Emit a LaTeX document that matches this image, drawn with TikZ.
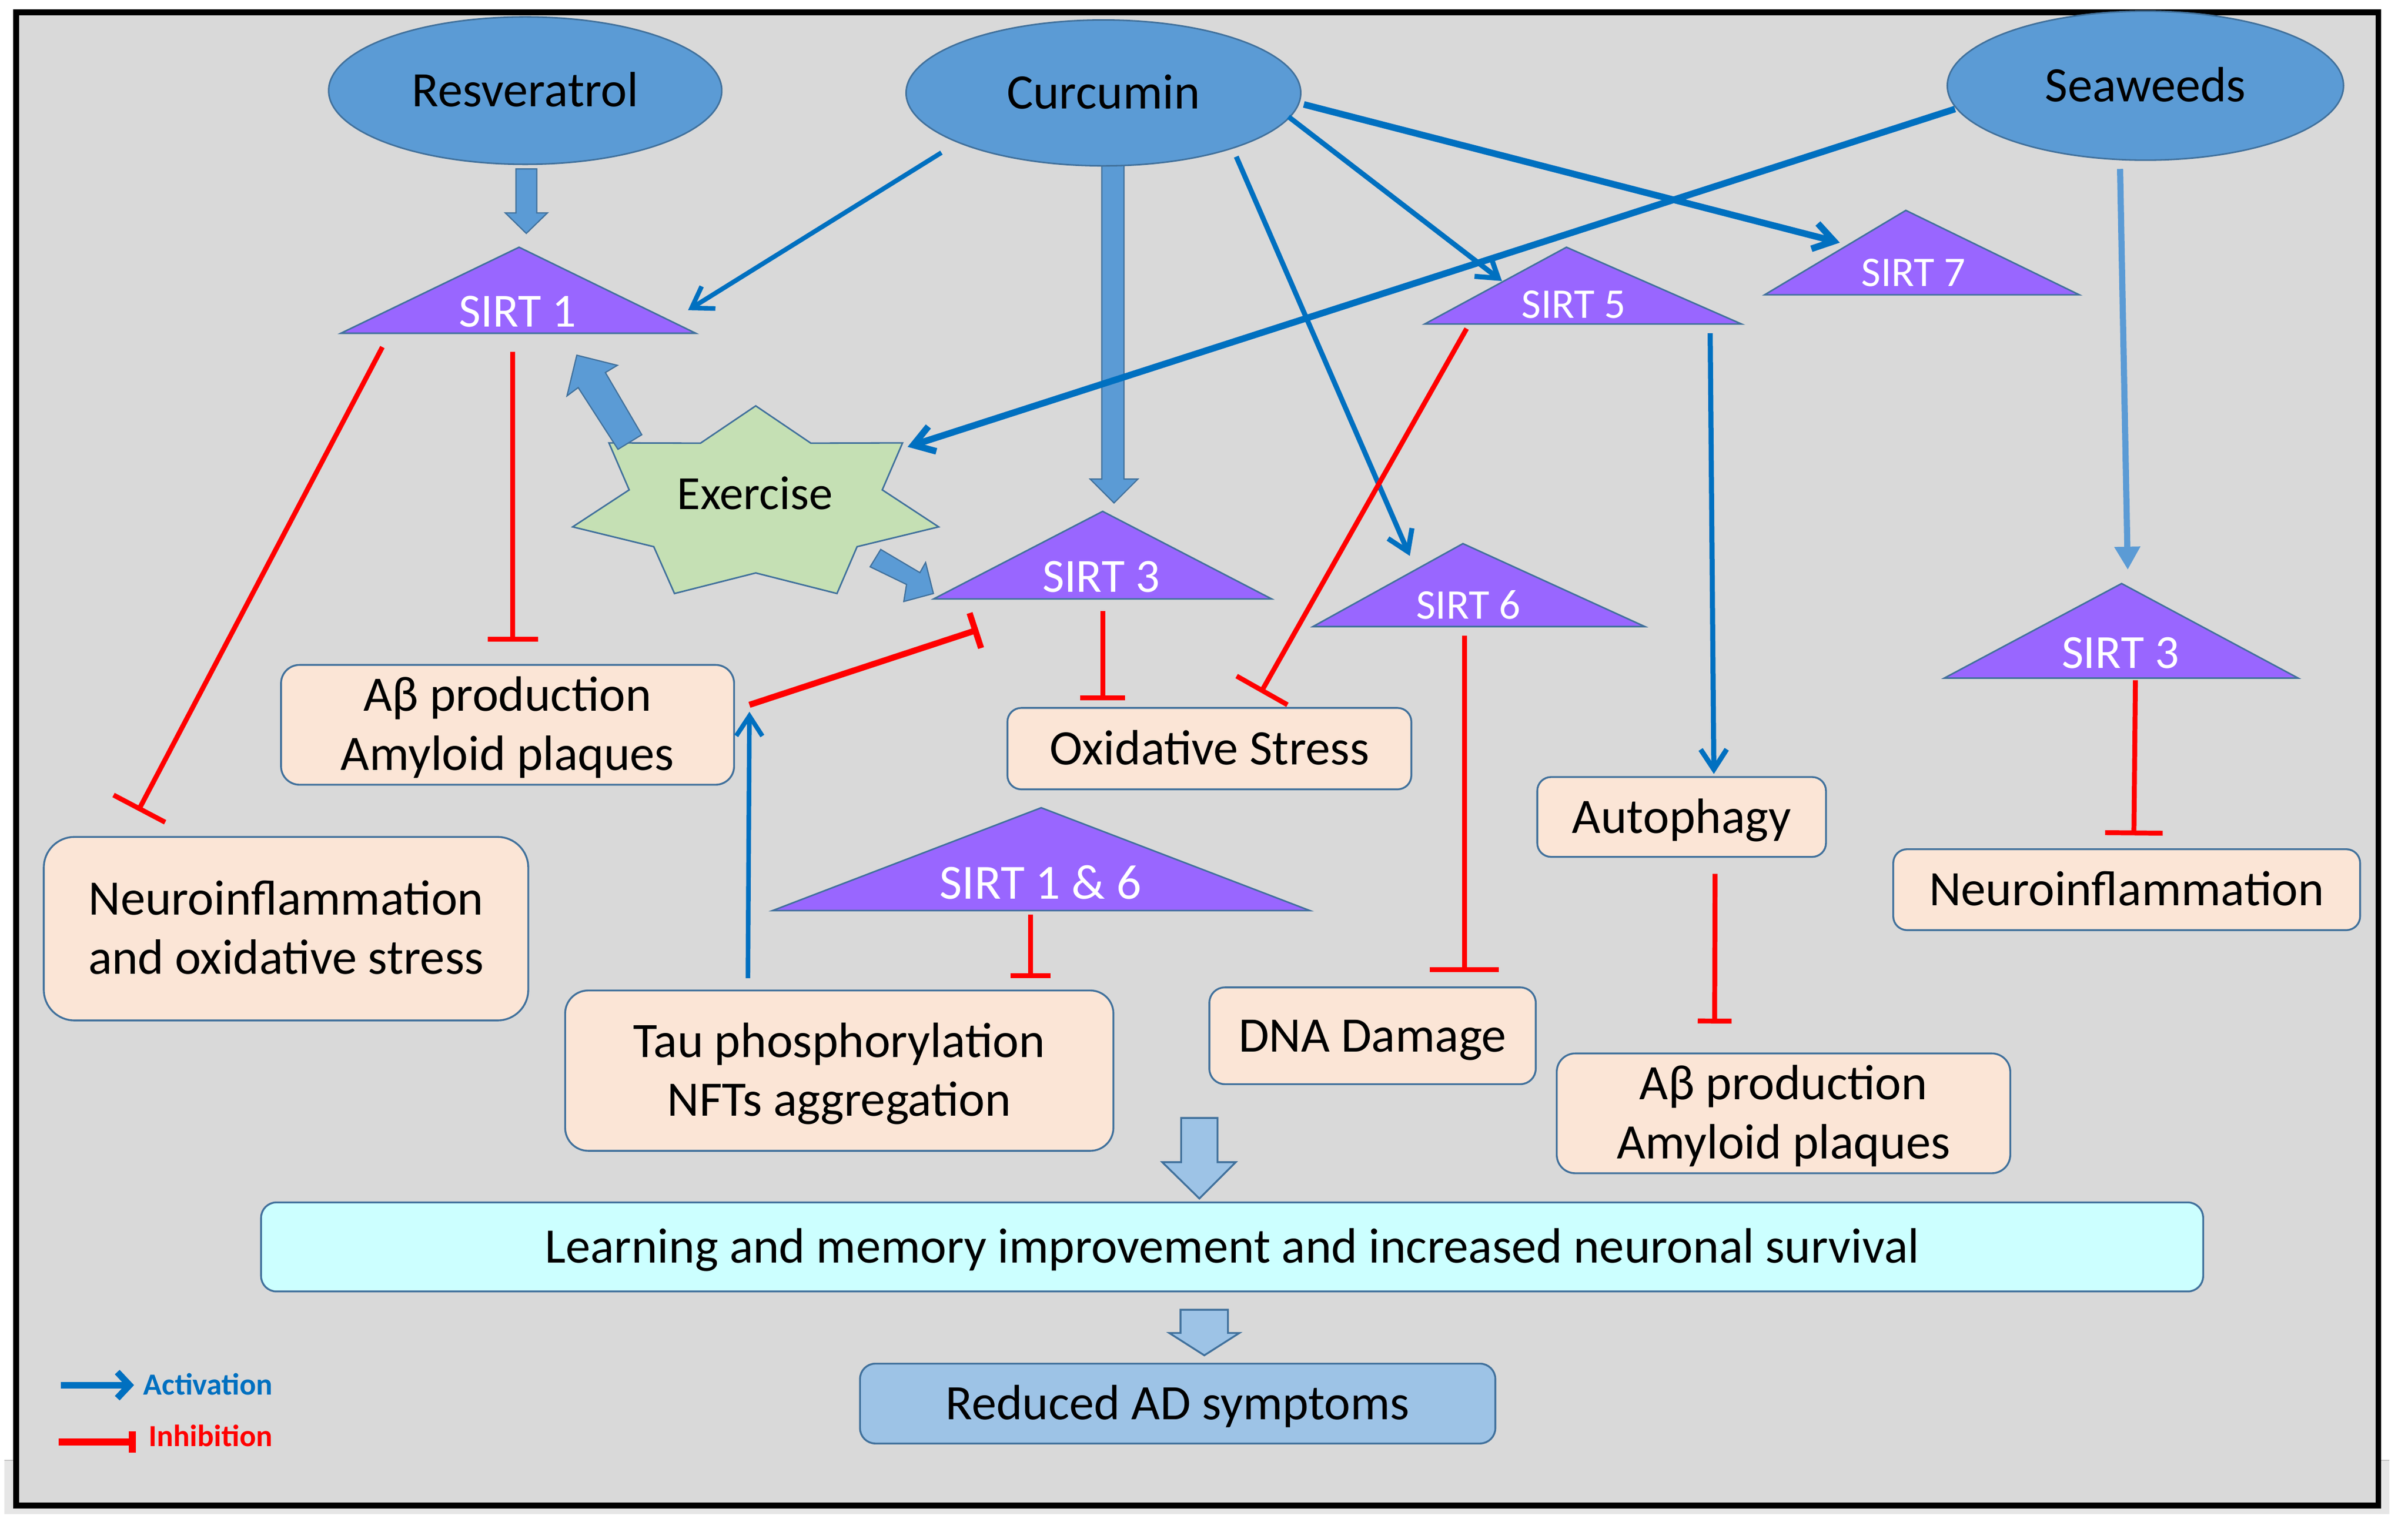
\documentclass[tikz,border=0pt]{standalone}
\usepackage{fontspec}
\setmainfont{Carlito}
\usetikzlibrary{arrows.meta,shapes.geometric}
\definecolor{bgGrey}{HTML}{D9D9D9}
\definecolor{stripGrey}{HTML}{E6E6E6}
\definecolor{stripEdge}{HTML}{C4C4C4}
\definecolor{ellFill}{HTML}{5B9BD5}
\definecolor{edgeBlue}{HTML}{41719C}
\definecolor{sirtFill}{HTML}{9966FF}
\definecolor{starFill}{HTML}{C5E0B4}
\definecolor{boxFill}{HTML}{FBE5D6}
\definecolor{learnFill}{HTML}{CCFFFF}
\definecolor{adFill}{HTML}{9DC3E6}
\definecolor{actBlue}{HTML}{0070C0}
\definecolor{inhRed}{HTML}{FF0000}
\newcommand{\mainsz}{\fontsize{32.3}{38.5}\selectfont}
\newcommand{\sirtbig}{\fontsize{31}{36}\selectfont}
\newcommand{\sirtsml}{\fontsize{27.5}{32}\selectfont}
\newcommand{\legsz}{\fontsize{20}{24}\selectfont\bfseries}
\begin{document}
\begin{tikzpicture}[x=1pt,y=-1pt,
  ell/.style={ellipse, fill=ellFill, draw=edgeBlue, line width=1pt, inner sep=0pt, font=\mainsz, text height=20.8pt, text depth=0pt},
  pbox/.style={rectangle, fill=boxFill, draw=edgeBlue, line width=1.2pt, inner sep=0pt, align=center, font=\mainsz},
  oneline/.style={text height=20.8pt, text depth=0pt},
  twoline/.style={text height=59.3pt, text depth=0pt},
  sirtshape/.style={fill=sirtFill, draw=edgeBlue, line width=1pt, line join=miter},
  sirtlbl/.style={text=white, anchor=base, inner sep=0pt},
  blkarrow/.style={fill=ellFill, draw=edgeBlue, line width=0.8pt},
  downarrow/.style={fill=adFill, draw=edgeBlue, line width=1.2pt},
  act/.style={draw=actBlue, line width=3pt, -{Straight Barb[length=13pt,width=17pt]}},
  inh/.style={draw=inhRed, line width=3.2pt},
]
\useasboundingbox (0,0) rectangle (1568,989);
% page strip and frame
\fill[stripGrey] (3,951) rectangle (1556,986);
\draw[stripEdge, line width=1pt] (3,951) -- (1556,951);
\draw[fill=bgGrey, draw=black, line width=3.8pt] (10.5,8) rectangle (1548.7,980.5);

% block arrows from curcumin and resveratrol
\draw[blkarrow] (336,110) -- (349.5,110) -- (349.5,138.6) -- (356.5,138.6) -- (342.7,152) -- (329,138.6) -- (336,138.6) -- cycle;
\draw[blkarrow] (717.4,106) -- (731.9,106) -- (731.9,312) -- (740.9,312) -- (725.4,327.5) -- (709.9,312) -- (717.4,312) -- cycle;

% sources
\node[ell, minimum width=256pt, minimum height=96pt] (res) at (342,59) {Resveratrol};
\node[ell, minimum width=257pt, minimum height=95pt] (cur) at (718.5,60.5) {Curcumin};
\node[ell, minimum width=258pt, minimum height=97pt] (sea) at (1397,55.8) {Seaweeds};

% sirtuin triangles
\draw[sirtshape] (338,161) -- (453,217) -- (222,217) -- cycle;
\node[sirtlbl, font=\sirtbig] (s1) at (337,212.8) {SIRT 1};
\draw[sirtshape] (718,333) -- (828,390) -- (608,390) -- cycle;
\node[sirtlbl, font=\sirtbig] (s3) at (717,385.5) {SIRT 3};
\draw[sirtshape] (1020,161) -- (1134,211) -- (927.7,211) -- cycle;
\node[sirtlbl, font=\sirtsml] (s5) at (1024.8,207) {SIRT 5};
\draw[sirtshape] (1241,137) -- (1354,192) -- (1149,192) -- cycle;
\node[sirtlbl, font=\sirtsml] (s7) at (1246,186.4) {SIRT 7};
\draw[sirtshape] (952.6,354) -- (1071,408) -- (855,408) -- cycle;
\node[sirtlbl, font=\sirtsml] (s6) at (956.2,403) {SIRT 6};
\draw[sirtshape] (1381.5,380) -- (1496.5,441.6) -- (1266,441.6) -- cycle;
\node[sirtlbl, font=\sirtbig] (s3r) at (1380.7,435) {SIRT 3};
\draw[sirtshape] (678,526) -- (853,593) -- (503,593) -- cycle;
\node[sirtlbl, font=\fontsize{32}{36}\selectfont] (s16) at (677.5,585.4) {SIRT 1 \& 6};

% exercise star
\draw[fill=starFill, draw=edgeBlue, line width=1pt] (492.1,264.3) -- (528.0,288.6) -- (587.7,288.4) -- (574.5,319.0) -- (611.2,343.1) -- (558.1,356.0) -- (545.0,386.5) -- (492.1,373.1) -- (439.2,386.5) -- (425.7,356.0) -- (372.9,343.1) -- (409.7,319.0) -- (396.5,288.4) -- (456.1,288.6) -- cycle;
\node[anchor=base, inner sep=0pt, font=\fontsize{31}{36}\selectfont] (ex) at (491.6,331.8) {Exercise};
% exercise block arrows
\draw[blkarrow] (417.9,283.1) -- (394.2,242.6) -- (402.0,237.9) -- (375.6,231.3) -- (369.2,257.8) -- (376.5,252.4) -- (402.4,292.6) -- cycle;
\draw[blkarrow] (573.5,357.8) -- (599.0,372.9) -- (602.7,366.3) -- (607.8,386.5) -- (588.5,391.7) -- (590.3,380.6) -- (566.6,369.1) -- cycle;

% outcome boxes
\node[pbox, twoline, rounded corners=12pt, minimum width=295pt, minimum height=78pt] (ab1) at (330.5,472) {Aβ production\\Amyloid plaques};
\node[pbox, oneline, rounded corners=9pt, minimum width=263pt, minimum height=53pt] (ox) at (787.5,487.5) {Oxidative Stress};
\node[pbox, twoline, rounded corners=20pt, minimum width=315.5pt, minimum height=119.5pt] (neu1) at (186.25,604.75) {Neuroinflammation\\and oxidative stress};
\node[pbox, twoline, rounded corners=15pt, minimum width=357pt, minimum height=104.4pt] (tau) at (546.5,697.2) {Tau phosphorylation\\NFTs aggregation};
\node[pbox, oneline, rounded corners=10pt, minimum width=212.5pt, minimum height=63pt] (dna) at (893.75,674.5) {DNA Damage};
\node[pbox, oneline, rounded corners=9pt, minimum width=188pt, minimum height=52pt] (auto) at (1095,532) {Autophagy};
\node[pbox, twoline, rounded corners=12pt, minimum width=295.3pt, minimum height=78pt] (ab2) at (1161.35,725) {Aβ production\\Amyloid plaques};
\node[pbox, oneline, rounded corners=9pt, minimum width=304pt, minimum height=52.7pt] (neu2) at (1384.8,579.35) {Neuroinflammation};
\node[pbox, oneline, fill=learnFill, rounded corners=10pt, minimum width=1264.6pt, minimum height=58pt] (learn) at (802.3,812) {Learning and memory improvement and increased neuronal survival};
\node[pbox, oneline, fill=adFill, rounded corners=10pt, minimum width=413.7pt, minimum height=52pt] (adsym) at (766.85,914) {Reduced AD symptoms};

% downward arrows
\draw[downarrow] (769.1,728) -- (792.8,728) -- (792.8,756.8) -- (804.7,756.8) -- (781,780.5) -- (756.8,756.8) -- (769.1,756.8) -- cycle;
\draw[downarrow] (768.7,852.9) -- (799.6,852.9) -- (799.6,868) -- (807.1,868) -- (784.2,882.6) -- (761.3,868) -- (768.7,868) -- cycle;

% connector end points
\coordinate (b1s) at (613,99.4);   \coordinate (b1e) at (448,202);
\coordinate (b2s) at (805,102);    \coordinate (b2e) at (918,362);
\coordinate (b3s) at (839,76);     \coordinate (b3e) at (978,183);
\coordinate (b4s) at (849,68);     \coordinate (b4e) at (1198,158);
\coordinate (b5s) at (1273,71);    \coordinate (b5e) at (591,291);
\coordinate (b6s) at (1380.5,110); \coordinate (b6e) at (1385.5,371);
\coordinate (b7s) at (1113.6,217); \coordinate (b7e) at (1116,504);
\coordinate (b8s) at (487,637);    \coordinate (b8e) at (488,463.5);
\coordinate (r1s) at (249,226);    \coordinate (r1e) at (90,528);
\coordinate (r2s) at (334,229);    \coordinate (r2e) at (334,418);
\coordinate (r3s) at (488,459);    \coordinate (r3e) at (637,410);
\coordinate (r4s) at (718,398);    \coordinate (r4e) at (718,456);
\coordinate (r5s) at (955,214);    \coordinate (r5e) at (821,451);
\coordinate (r6s) at (953.6,414);  \coordinate (r6e) at (953.6,633);
\coordinate (r7s) at (1116.8,569); \coordinate (r7e) at (1116.5,666.5);
\coordinate (r8s) at (1390.5,443); \coordinate (r8e) at (1389.5,544);
\coordinate (r9s) at (671,595.7);  \coordinate (r9e) at (671,637);

% activation connectors
\draw[act] (b1s) -- (b1e);
\draw[act, line width=3.3pt] (b2s) -- (b2e);
\draw[act, line width=3.3pt] (b3s) -- (b3e);
\draw[act, line width=4.3pt] (b4s) -- (b4e);
\draw[act, line width=4.3pt] (b5s) -- (b5e);
\draw[draw=ellFill, line width=4pt, -{Triangle[length=15pt,width=16pt]}] (b6s) -- (b6e);
\draw[act, line width=3.3pt] (b7s) -- (b7e);
\draw[act] (b8s) -- (b8e);

% inhibition connectors
\draw[inh, -{Bar[width=38pt]}] (r1s) -- (r1e);
\draw[inh, -{Bar[width=33pt]}] (r2s) -- (r2e);
\draw[inh, line width=4pt, -{Bar[width=24pt]}] (r3s) -- (r3e);
\draw[inh, -{Bar[width=29pt]}] (r4s) -- (r4e);
\draw[inh, -{Bar[width=38pt]}] (r5s) -- (r5e);
\draw[inh, -{Bar[width=45pt]}] (r6s) -- (r6e);
\draw[inh, -{Bar[width=22pt]}] (r7s) -- (r7e);
\draw[inh, -{Bar[width=37.5pt]}] (r8s) -- (r8e);
\draw[inh, -{Bar[width=26pt]}] (r9s) -- (r9e);

% legend
\coordinate (la1) at (39.5,902);  \coordinate (la2) at (87.3,902);
\coordinate (li1) at (38.2,939);  \coordinate (li2) at (88.5,939);
\draw[draw=actBlue, line width=4.3pt, -{Straight Barb[length=8pt,width=17pt]}] (la1) -- (la2);
\draw[draw=inhRed, line width=4.6pt, -{Bar[width=14pt]}] (li1) -- (li2);
\node[anchor=base west, inner sep=0pt, text=actBlue, font=\legsz] (legact) at (93.2,908.3) {Activation};
\node[anchor=base west, inner sep=0pt, text=inhRed, font=\legsz] (leginh) at (96.7,942) {Inhibition};
\end{tikzpicture}
\end{document}
